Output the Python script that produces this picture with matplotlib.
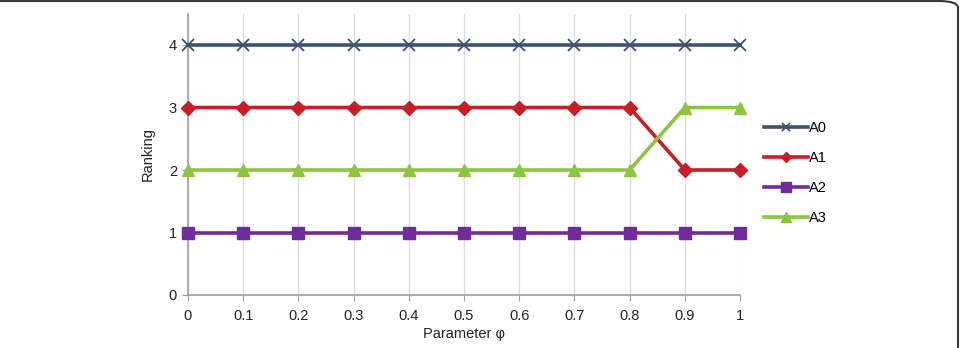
import matplotlib
matplotlib.use("Agg")
import matplotlib.pyplot as plt
from matplotlib.patches import FancyBboxPatch

plt.rcParams['font.family'] = ['Liberation Sans', 'DejaVu Sans']

phi = [0, 0.1, 0.2, 0.3, 0.4, 0.5, 0.6, 0.7, 0.8, 0.9, 1]
xtick_labels = ['0', '0.1', '0.2', '0.3', '0.4', '0.5', '0.6', '0.7', '0.8', '0.9', '1']
A0 = [4, 4, 4, 4, 4, 4, 4, 4, 4, 4, 4]
A1 = [3, 3, 3, 3, 3, 3, 3, 3, 3, 2, 2]
A2 = [1, 1, 1, 1, 1, 1, 1, 1, 1, 1, 1]
A3 = [2, 2, 2, 2, 2, 2, 2, 2, 2, 3, 3]

fig = plt.figure(figsize=(9.65, 3.48), dpi=100)
ax = fig.add_axes([188/965, 53/348, 552/965, 281.25/348])

ax.plot(phi, A0, color='#3f5170', lw=2.6, marker='x', ms=8, mew=1.3, label='A0', clip_on=False, zorder=3)
ax.plot(phi, A1, color='#c61f27', lw=2.6, marker='D', ms=7, label='A1', clip_on=False, zorder=3)
ax.plot(phi, A2, color='#6f2c9b', lw=2.6, marker='s', ms=9, label='A2', clip_on=False, zorder=3)
ax.plot(phi, A3, color='#8cc63e', lw=2.6, marker='^', ms=9, label='A3', clip_on=False, zorder=3)

ax.set_xlim(0, 1)
ax.set_ylim(0, 4.5)
ax.set_xticks(phi)
ax.set_xticklabels(xtick_labels)
ax.set_yticks([0, 1, 2, 3, 4])
ax.grid(axis='x', color='#d8dee6', lw=1)
ax.set_axisbelow(True)
for s in ['top', 'right']:
    ax.spines[s].set_visible(False)
for s in ['left', 'bottom']:
    ax.spines[s].set_color('#a0a0a0')
    ax.spines[s].set_linewidth(1.2)
ax.tick_params(axis='x', direction='out', length=4, color='#a0a0a0', labelsize=10.5, pad=6, colors='#222222')
ax.tick_params(axis='y', direction='out', length=4, color='#a0a0a0', labelsize=10.5, pad=4, colors='#222222')
ax.set_xlabel('Parameter φ', fontsize=10.5, labelpad=3, color='#222222')
ax.set_ylabel('Ranking', fontsize=10.5, labelpad=10, color='#222222')

leg = ax.legend(loc='center left', bbox_to_anchor=(1.02, 0.434), frameon=False, fontsize=10.5,
                handlelength=3.0, handletextpad=0.1, labelspacing=1.1, markerscale=0.8)

box = FancyBboxPatch((-20/965, -50/348), (958+20)/965, (347+50)/348,
                     boxstyle='round,pad=0,rounding_size=0.02', transform=fig.transFigure,
                     fill=False, edgecolor='#3a3a3a', lw=1.5, clip_on=False)
fig.patches.append(box)

fig.savefig('out.png', dpi=100)
